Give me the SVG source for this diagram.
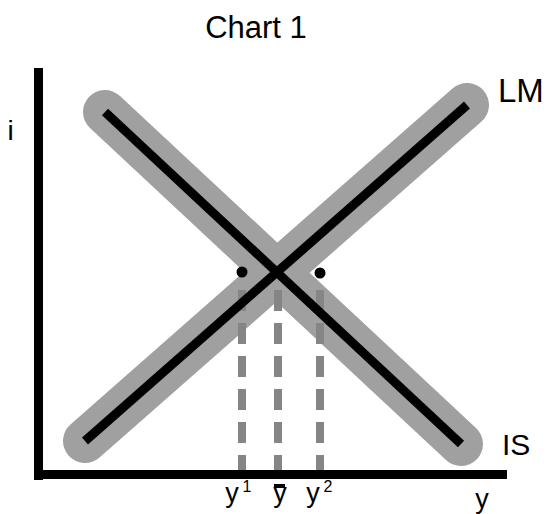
<svg xmlns="http://www.w3.org/2000/svg" width="549" height="514" viewBox="0 0 549 514">
<style>
.t{font-family:"Liberation Sans",Arial,sans-serif;fill:#000}
.halo{stroke:#a0a0a0;stroke-width:44;stroke-linecap:round;fill:none}
.core{stroke:#000;stroke-width:9;fill:none}
.dash{stroke:#858585;stroke-width:8;stroke-dasharray:21 12;fill:none}
.axis{fill:#000}
</style>
<rect width="549" height="514" fill="#fff"/>
<text class="t" x="256" y="38" font-size="31" text-anchor="middle">Chart 1</text>
<g id="axes">
<rect class="axis" x="34" y="68" width="9" height="412"/>
<rect class="axis" x="34" y="470" width="473" height="9"/>
<text class="t" x="10.5" y="140" font-size="28" text-anchor="middle">i</text>
<text class="t" x="482" y="508" font-size="27" text-anchor="middle">y</text>
</g>
<g id="IS">
<line class="halo" x1="105" y1="112" x2="461" y2="444"/>
</g>
<g id="LM">
<line class="halo" x1="85" y1="441" x2="467" y2="105"/>
</g>
<g id="connectors">
<line class="dash" x1="242" y1="290" x2="242" y2="470"/>
<line class="dash" x1="278" y1="290" x2="278" y2="470"/>
<line class="dash" x1="320" y1="290" x2="320" y2="470"/>
<line class="core" x1="105" y1="112" x2="461" y2="444"/>
<line class="core" x1="85" y1="441" x2="467" y2="105"/>
<circle cx="242" cy="272" r="5.5" fill="#000"/>
<circle cx="320" cy="273" r="5.5" fill="#000"/>
</g>
<g id="labels">
<text class="t" x="498" y="102" font-size="33">LM</text>
<text class="t" x="502" y="455" font-size="30">IS</text>
<text class="t" x="232" y="502" font-size="27" text-anchor="middle">y</text>
<text class="t" x="247" y="492" font-size="16" text-anchor="middle">1</text>
<text class="t" x="280" y="502" font-size="27" text-anchor="middle">y</text>
<rect x="274" y="484" width="11" height="4" fill="#000"/>
<text class="t" x="313" y="502" font-size="27" text-anchor="middle">y</text>
<text class="t" x="328" y="492" font-size="16" text-anchor="middle">2</text>
</g>
</svg>
